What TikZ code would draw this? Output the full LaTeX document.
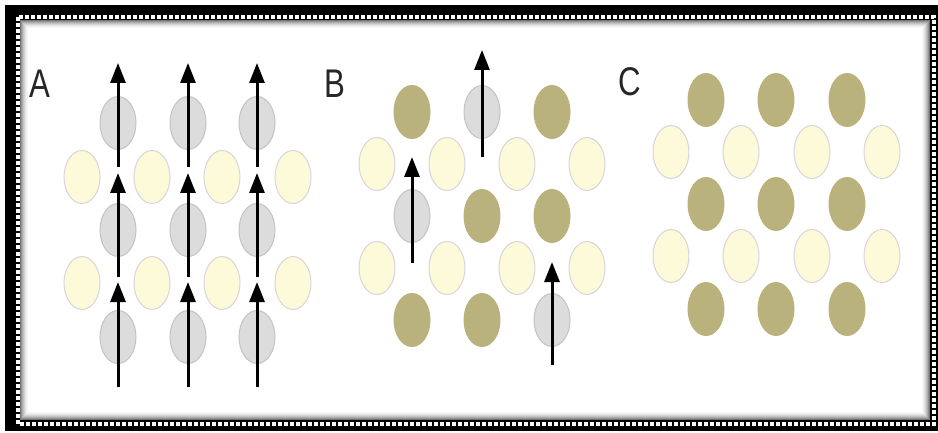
\documentclass[tikz,border=0pt]{standalone}
\usepackage{fontspec}
\setmainfont{Liberation Sans}
\usetikzlibrary{shapes.geometric,arrows.meta}

\definecolor{grigioatomo}{HTML}{DCDCDC}
\definecolor{grigiobordo}{HTML}{C2C2CA}
\definecolor{crema}{HTML}{FDFADA}
\definecolor{cremabordo}{HTML}{D8D4DA}
\definecolor{oliva}{HTML}{B9B27C}

\tikzset{
  atomo/.style={ellipse, minimum width=18pt, minimum height=26.5pt, inner sep=0pt, line width=0.5pt},
  grigio/.style={atomo, fill=grigioatomo, draw=grigiobordo},
  giallo/.style={atomo, fill=crema, draw=cremabordo},
  scuro/.style={atomo, fill=oliva, draw=oliva},
  freccia/.style={-{Triangle[width=7.5pt,length=10pt]}, line width=1.5pt},
  lettera/.style={font=\fontsize{20}{20}\selectfont, xscale=0.78, text=black!85}
}

\begin{document}
\begin{tikzpicture}[x=0.5pt,y=-0.5pt]
    \useasboundingbox (0,0) rectangle (938,433);

    % Cornice
    \fill[black] (5,5) rectangle (938,431);
    \fill[white] (20,20) rectangle (930,420);
    \draw[white, line width=2pt, dash pattern=on 2pt off 1pt] (17.5,17.5) rectangle (934,423.5);
    \foreach \i/\c in {0/55,1/42,2/32,3/24,4/17,5/11,6/6,7/3}
      \draw[black!\c, line width=0.5pt] (20.5+\i,20.5+\i) rectangle (929.5-\i,419.5-\i);

    % Pannello A
    \node[lettera] (labA) at (40,84) {A};
    \foreach \x [count=\c] in {82,152,222,293} {
      \node[giallo] (A-y1-\c) at (\x,177) {};
      \node[giallo] (A-y2-\c) at (\x,283) {};
    }
    \foreach \x [count=\c] in {118,188,257} {
      \node[grigio] (A-g1-\c) at (\x,123) {};
      \node[grigio] (A-g2-\c) at (\x,230) {};
      \node[grigio] (A-g3-\c) at (\x,337) {};
      % Frecce
      \coordinate (A-p0-\c) at (\x,387);
      \coordinate (A-p1-\c) at (\x,282);
      \coordinate (A-q1-\c) at (\x,277);
      \coordinate (A-p2-\c) at (\x,173);
      \coordinate (A-q2-\c) at (\x,167);
      \coordinate (A-p3-\c) at (\x,63);
      \draw[freccia] (A-p0-\c) -- (A-p1-\c);
      \draw[freccia] (A-q1-\c) -- (A-p2-\c);
      \draw[freccia] (A-q2-\c) -- (A-p3-\c);
    }

    % Pannello B
    \node[lettera] (labB) at (335,84) {B};
    \foreach \x [count=\c] in {377,447,517,587} {
      \node[giallo] (B-y1-\c) at (\x,164) {};
      \node[giallo] (B-y2-\c) at (\x,268) {};
    }
    \node[scuro]  (B-11) at (412,112) {};
    \node[grigio] (B-12) at (482,112) {};
    \node[scuro]  (B-13) at (552,112) {};
    \node[grigio] (B-21) at (412,216) {};
    \node[scuro]  (B-22) at (482,216) {};
    \node[scuro]  (B-23) at (552,216) {};
    \node[scuro]  (B-31) at (412,320) {};
    \node[scuro]  (B-32) at (482,320) {};
    \node[grigio] (B-33) at (552,320) {};
    % Frecce
    \coordinate (B-a0) at (482,157);
    \coordinate (B-a1) at (482,50);
    \coordinate (B-b0) at (412,263);
    \coordinate (B-b1) at (412,157);
    \coordinate (B-c0) at (552,365);
    \coordinate (B-c1) at (552,262);
    \draw[freccia] (B-a0) -- (B-a1);
    \draw[freccia] (B-b0) -- (B-b1);
    \draw[freccia] (B-c0) -- (B-c1);

    % Pannello C
    \node[lettera] (labC) at (630,82) {C};
    \foreach \x [count=\c] in {671,741,812,882} {
      \node[giallo] (C-y1-\c) at (\x,152) {};
      \node[giallo] (C-y2-\c) at (\x,256) {};
    }
    \foreach \x [count=\c] in {706,776,847} {
      \node[scuro] (C-s1-\c) at (\x,100) {};
      \node[scuro] (C-s2-\c) at (\x,204) {};
      \node[scuro] (C-s3-\c) at (\x,309) {};
    }
\end{tikzpicture}
\end{document}
